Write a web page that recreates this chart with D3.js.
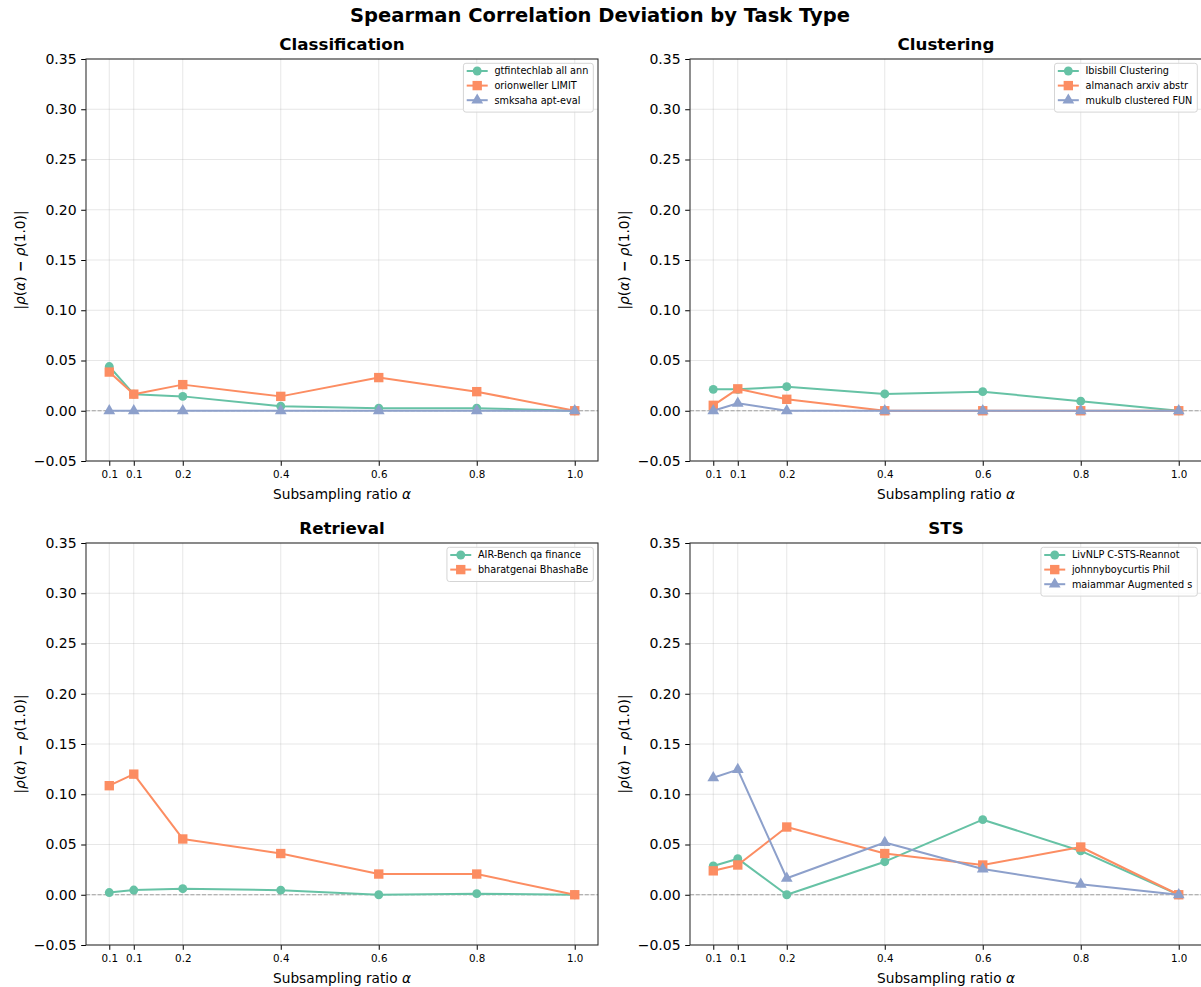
<!DOCTYPE html>
<html><head><meta charset="utf-8">
<script src="https://cdn.jsdelivr.net/npm/d3@7"></script>
<style>body{margin:0;background:#fff;} svg{display:block;font-family:"DejaVu Sans",sans-serif;}</style>
</head><body>
<svg id="c" width="1201" height="987"></svg>
<script>
const alphas = [0.05, 0.1, 0.2, 0.4, 0.6, 0.8, 1.0];
const xTickLabels = ["0.1", "0.1", "0.2", "0.4", "0.6", "0.8", "1.0"];
const yTicks = [-0.05, 0.0, 0.05, 0.10, 0.15, 0.20, 0.25, 0.30, 0.35];
const colors = ["#66c2a5", "#fc8d62", "#8da0cb"];
const markers = ["circle", "square", "triangle"];

const classificationNames = ["gtfintechlab all ann", "orionweller LIMIT", "smksaha apt-eval"];
const classificationValues = [
  [0.044, 0.0165, 0.0143, 0.0045, 0.0025, 0.0025, 0.0],
  [0.0385, 0.0165, 0.026, 0.0143, 0.033, 0.019, 0.0],
  [0, 0, 0, 0, 0, 0, 0]
];
const clusteringNames = ["Ibisbill Clustering", "almanach arxiv abstr", "mukulb clustered FUN"];
const clusteringValues = [
  [0.0213, 0.0213, 0.024, 0.0167, 0.019, 0.0095, 0.0],
  [0.0054, 0.0218, 0.0114, 0, 0, 0, 0],
  [0, 0.0074, 0, 0, 0, 0, 0]
];
const retrievalNames = ["AIR-Bench qa finance", "bharatgenai BhashaBe"];
const retrievalValues = [
  [0.0022, 0.0047, 0.006, 0.0046, 0.0, 0.0011, 0.0],
  [0.1085, 0.120, 0.0555, 0.041, 0.0206, 0.0206, 0.0]
];
const stsNames = ["LivNLP C-STS-Reannot", "johnnyboycurtis Phil", "maiammar Augmented s"];
const stsValues = [
  [0.0286, 0.0359, 0.0, 0.0329, 0.0747, 0.0436, 0.0],
  [0.0238, 0.0296, 0.0674, 0.041, 0.0296, 0.0475, 0.0],
  [0.1164, 0.1245, 0.0164, 0.052, 0.0256, 0.0104, 0.0]
];

const panels = [
  {title: "Classification", names: classificationNames, values: classificationValues, left: 86, top: 59},
  {title: "Clustering", names: clusteringNames, values: clusteringValues, left: 690, top: 59},
  {title: "Retrieval", names: retrievalNames, values: retrievalValues, left: 86, top: 543},
  {title: "STS", names: stsNames, values: stsValues, left: 690, top: 543}
];
const W = 512, H = 402;
const svg = d3.select("#c");

svg.append("text").attr("x", 600).attr("y", 22).attr("text-anchor", "middle")
  .attr("font-size", 19.5).attr("font-weight", "bold").text("Spearman Correlation Deviation by Task Type");

function markerPath(type, size) {
  const sym = type === "circle" ? d3.symbolCircle : type === "square" ? d3.symbolSquare : d3.symbolTriangle;
  return d3.symbol().type(sym).size(size)();
}
const msize = {circle: 62, square: 88, triangle: 60};

panels.forEach(p => {
  const g = svg.append("g").attr("transform", `translate(${p.left},${p.top})`);
  const x = d3.scaleLinear().domain([0.0025, 1.0475]).range([0, W]);
  const y = d3.scaleLinear().domain([-0.05, 0.35]).range([H, 0]);

  // grid
  g.append("g").selectAll("line").data(alphas).join("line")
    .attr("x1", d => x(d)).attr("x2", d => x(d)).attr("y1", 0).attr("y2", H)
    .attr("stroke", "#b0b0b0").attr("stroke-opacity", 0.3).attr("stroke-width", 1);
  g.append("g").selectAll("line").data(yTicks).join("line")
    .attr("x1", 0).attr("x2", W).attr("y1", d => y(d)).attr("y2", d => y(d))
    .attr("stroke", "#b0b0b0").attr("stroke-opacity", 0.3).attr("stroke-width", 1);

  // zero line
  g.append("line").attr("x1", 0).attr("x2", W).attr("y1", y(0)).attr("y2", y(0))
    .attr("stroke", "#808080").attr("stroke-opacity", 0.7).attr("stroke-width", 1.1)
    .attr("stroke-dasharray", "4,1.8");

  // series
  p.values.forEach((vals, i) => {
    const pts = alphas.map((a, j) => [a, vals[j]]);
    const sg = g.append("g");
    sg.append("path").datum(pts)
      .attr("d", d3.line().x(d => x(d[0])).y(d => y(d[1])))
      .attr("fill", "none").attr("stroke", colors[i]).attr("stroke-width", 2)
      .attr("stroke-linejoin", "round");
    sg.selectAll("path.m").data(pts).join("path").attr("class", "m")
      .attr("transform", d => `translate(${x(d[0])},${y(d[1])})`)
      .attr("d", markerPath(markers[i], msize[markers[i]]))
      .attr("fill", colors[i]);
  });

  // axes
  const xa = d3.axisBottom(x).tickValues(alphas).tickFormat((d, i) => xTickLabels[i]).tickSize(4.8).tickPadding(5.2);
  const xg = g.append("g").attr("transform", `translate(0,${H})`).call(xa);
  xg.selectAll("text").attr("font-size", 10.3).attr("fill", "#000").attr("font-family", "DejaVu Sans");
  const ya = d3.axisLeft(y).tickValues(yTicks).tickFormat(d => d3.format(".2f")(d).replace("-", "\u2212")).tickSize(4.8).tickPadding(4.6);
  const yg = g.append("g").call(ya);
  yg.selectAll("text").attr("font-size", 14).attr("fill", "#000").attr("font-family", "DejaVu Sans");
  [xg, yg].forEach(a => { a.select(".domain").remove(); a.selectAll(".tick line").attr("stroke", "#000").attr("stroke-width", 1); });

  // spines
  g.append("rect").attr("x", 0).attr("y", 0).attr("width", W).attr("height", H)
    .attr("fill", "none").attr("stroke", "#333").attr("stroke-width", 1.1);

  // title and labels
  g.append("text").attr("x", W / 2).attr("y", -9).attr("text-anchor", "middle")
    .attr("font-size", 16.7).attr("font-weight", "bold").text(p.title);
  const xl = g.append("text").attr("x", W / 2).attr("y", H + 38).attr("text-anchor", "middle").attr("font-size", 13.7);
  xl.append("tspan").text("Subsampling ratio ");
  xl.append("tspan").attr("font-style", "italic").text("α");
  const yl = g.append("text").attr("transform", `translate(${-61},${H / 2}) rotate(-90)`)
    .attr("text-anchor", "middle").attr("font-size", 13.7);
  yl.append("tspan").text("|");
  yl.append("tspan").attr("font-style", "italic").text("ρ");
  yl.append("tspan").text("(");
  yl.append("tspan").attr("font-style", "italic").text("α");
  yl.append("tspan").text(") ");
  yl.append("tspan").attr("font-weight", "bold").text("−");
  yl.append("tspan").text(" ");
  yl.append("tspan").attr("font-style", "italic").text("ρ");
  yl.append("tspan").text("(1.0)|");

  // legend
  const lg = g.append("g");
  const fs = 9.7, rowH = 14.6;
  const tmp = lg.append("g");
  const texts = p.names.map((n, i) => tmp.append("text").attr("font-size", fs).text(n));
  const maxW = d3.max(texts, t => t.node().getComputedTextLength());
  tmp.remove();
  const bw = 31 + maxW + 5;
  const bh = p.names.length * rowH + 5;
  const bx = W - 4.7 - bw, by = 4.3;
  lg.append("rect").attr("x", bx).attr("y", by).attr("width", bw).attr("height", bh)
    .attr("rx", 2.5).attr("fill", "#fff").attr("fill-opacity", 0.8).attr("stroke", "#d5d5d5").attr("stroke-width", 1);
  p.names.forEach((n, i) => {
    const cy = by + 7.7 + i * rowH;
    lg.append("line").attr("x1", bx + 3.3).attr("x2", bx + 24.3).attr("y1", cy).attr("y2", cy)
      .attr("stroke", colors[i]).attr("stroke-width", 2);
    lg.append("path").attr("transform", `translate(${bx + 13.8},${cy})`)
      .attr("d", markerPath(markers[i], msize[markers[i]])).attr("fill", colors[i]);
    lg.append("text").attr("x", bx + 31).attr("y", cy).attr("dy", "0.35em").attr("font-size", fs).text(n);
  });
});
</script>
</body></html>
